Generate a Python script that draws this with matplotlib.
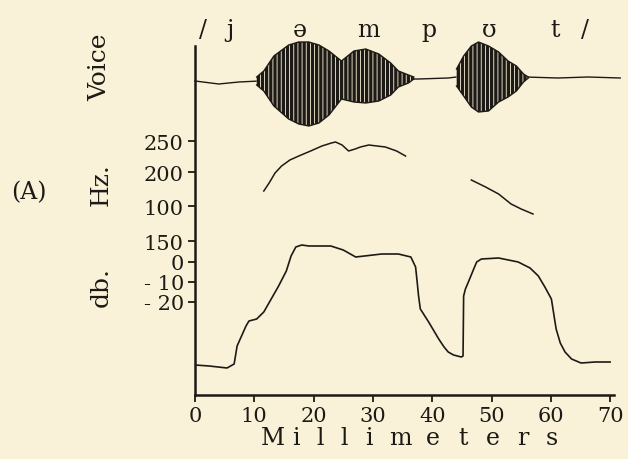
import numpy as np
import matplotlib
matplotlib.use("Agg")
import matplotlib.pyplot as plt

"""DATA (x in millimeters, y in trace height above the time axis)"""
# voice baseline
base_mm = [0.0, 4.0, 7.4, 10.8, 34.3, 37.7, 42.7, 44.1, 55.7, 61.2, 66.3, 71.7]
base_h = [314, 311, 313, 314, 316, 316, 317, 318, 318, 317, 318, 317]

# voice envelope, vowel 1 (schwa + m)
v1_mm = [10.4, 11.6, 13.3, 15.8, 17.5, 19.2, 20.9, 22.6, 24.7, 26.8, 28.8, 31.0, 33.0, 34.3, 36.0, 36.9]
v1_top = [318, 324, 339, 350, 353, 353, 350, 344, 334, 344, 346, 341, 332, 324, 320, 318]
v1_bot = [310, 304, 289, 276, 271, 269, 272, 280, 296, 293, 292, 294, 300, 308, 312, 316]

# voice envelope, vowel 2 (upsilon)
v2_mm = [44.1, 45.3, 46.6, 47.8, 49.5, 51.2, 52.8, 54.2, 55.4, 56.2]
v2_top = [326, 339, 349, 353, 349, 343, 334, 329, 321, 318]
v2_bot = [309, 299, 288, 283, 284, 293, 298, 304, 313, 317]

# pitch (Hz) trace, two pieces
hz1_mm = [11.6, 12.5, 13.5, 14.6, 16.0, 17.5, 19.5, 21.4, 23.0, 23.7, 24.8, 25.9, 27.0, 27.9, 29.3, 32.1, 34.0, 35.5]
hz1_h = [204, 212, 222, 229, 235, 239, 244, 249, 252, 253, 250, 244, 246, 248, 250, 248, 244, 239]
hz2_mm = [46.6, 49.0, 51.2, 53.3, 55.0, 57.0]
hz2_h = [215, 208, 201, 191, 186, 181]

# intensity (db) trace
db_mm = [0.0, 2.4, 5.4, 6.6, 7.1, 8.6, 9.1, 10.4, 11.6, 14.1, 15.4, 16.2, 17.0, 18.0, 19.2, 22.9,
         25.0, 27.1, 31.5, 34.3, 36.4, 37.2, 37.5, 37.7, 38.0, 39.4, 41.1, 42.0, 42.7, 43.6, 44.9,
         45.2, 45.3, 45.6, 46.1, 47.0, 47.5, 48.3, 51.2, 54.5, 56.5, 57.9, 59.0, 60.1, 60.9, 61.6,
         62.4, 63.5, 65.1, 67.5, 70.0]
db_h = [30, 29, 27, 31, 49, 69, 74, 76, 83, 109, 124, 139, 148, 150, 149, 149,
        145, 138, 141, 141, 138, 128, 111, 99, 86, 73, 56, 48, 43, 40, 38,
        39, 99, 106, 113, 126, 133, 136, 137, 133, 127, 119, 108, 96, 66, 52,
        43, 36, 32, 33, 33]

ytick_h = [254, 223, 189, 154, 133, 113, 93]
ytick_lab = ["250", "200", "100", "150", "0", "- 10", "- 20"]
xticks = [0, 10, 20, 30, 40, 50, 60, 70]

phon = ["/", "j", "ə", "m", "p", "ʊ", "t", "/"]
phon_mm = [1.4, 5.9, 17.7, 29.3, 39.4, 49.6, 60.7, 65.8]

xlabel = "Millimeters"

"""STYLE"""
paper = "#f9f2d9"
ink = "#1d1a16"
plt.rcParams["font.family"] = ["DejaVu Serif"]
plt.rcParams["hatch.linewidth"] = 0.6

W, H = 628, 460
fig = plt.figure(figsize=(W / 100, H / 100), dpi=100, facecolor=paper)
pxmm = 5.93
ax = fig.add_axes([195 / W, 1 - 396 / H, 70.6 * pxmm / W, 349 / H])
ax.set_facecolor(paper)
ax.set_xlim(0, 70.6)
ax.set_ylim(0, 349)

for s in ["top", "right"]:
    ax.spines[s].set_visible(False)
for s in ["left", "bottom"]:
    ax.spines[s].set_linewidth(1.8)
    ax.spines[s].set_color(ink)

"""PLOTTING"""
ax.plot(base_mm, base_h, color=ink, lw=1.0, clip_on=False, zorder=0.5)
for xs, top, bot in [(v1_mm, v1_top, v1_bot), (v2_mm, v2_top, v2_bot)]:
    ax.fill_between(xs, bot, top, facecolor=ink, edgecolor=paper, hatch="||||",
                    linewidth=0, clip_on=False, zorder=1)
    ax.plot(xs, top, color=ink, lw=1.0, clip_on=False, zorder=1.5)
    ax.plot(xs, bot, color=ink, lw=1.0, clip_on=False, zorder=1.5)

ax.plot(hz1_mm, hz1_h, color=ink, lw=1.1)
ax.plot(hz2_mm, hz2_h, color=ink, lw=1.1)
ax.plot(db_mm, db_h, color=ink, lw=1.2)

ax.set_yticks(ytick_h)
ax.set_yticklabels(ytick_lab, fontsize=15, color=ink)
ax.set_xticks(xticks)
ax.set_xticklabels([str(v) for v in xticks], fontsize=15, color=ink)
ax.tick_params(axis="both", direction="out", length=5, width=1.3, color=ink, pad=3)

for m, ch in zip(phon_mm, phon):
    ax.text(m, 359, ch, fontsize=17, ha="center", va="baseline", color=ink, clip_on=False)

# spaced-out axis title, letter centres measured in pixels
lpx = np.array([273, 296, 320, 344, 369, 400, 433, 463, 493, 523, 552])
for m, ch in zip((lpx - 195) / pxmm, xlabel):
    ax.text(m, -0.14, ch, fontsize=17, ha="center", va="baseline", color=ink,
            transform=ax.get_xaxis_transform())

fig.text(100 / W, 1 - 67 / H, "Voice", rotation=90, fontsize=18, ha="center", va="center", color=ink)
fig.text(101 / W, 1 - 185 / H, "Hz.", rotation=90, fontsize=18, ha="center", va="center", color=ink)
fig.text(101 / W, 1 - 287 / H, "db.", rotation=90, fontsize=18, ha="center", va="center", color=ink)
fig.text(29 / W, 1 - 193 / H, "(A)", fontsize=17, ha="center", va="center", color=ink)

fig.savefig("out.png", dpi=100, facecolor=paper)
